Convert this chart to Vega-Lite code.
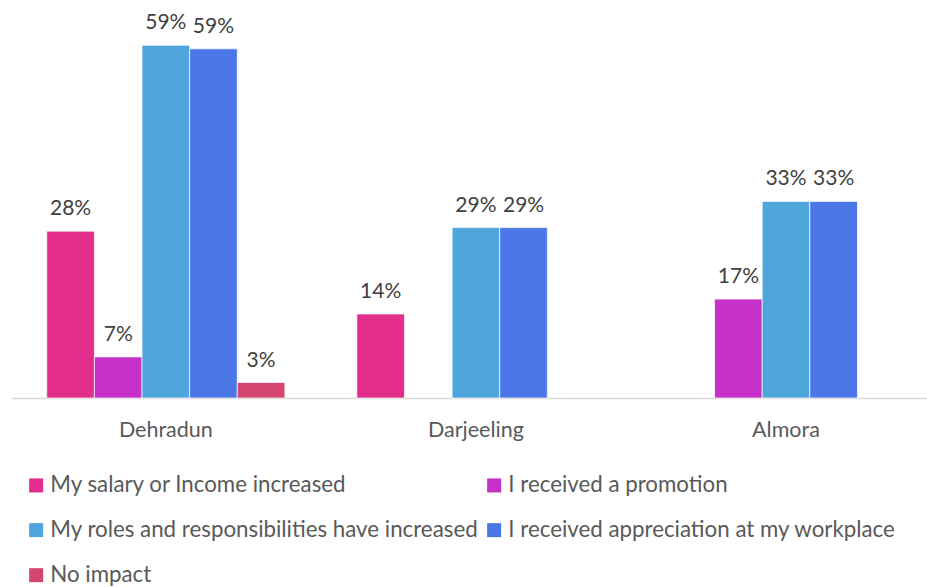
{
  "$schema": "https://vega.github.io/schema/vega-lite/v6.json",
  "width": 916,
  "height": 398,
  "padding": {"left": 11, "top": 0, "right": 0, "bottom": 189},
  "autosize": {"type": "none"},
  "background": "white",
  "config": {
    "font": "Lato",
    "view": {"stroke": null},
    "legend": {"labelFont": "Lato"}
  },
  "data": {
    "values": [
      {"city": "Dehradun", "series": "My salary or Income increased", "value": 0.28},
      {"city": "Dehradun", "series": "I received a promotion", "value": 0.069},
      {"city": "Dehradun", "series": "My roles and responsibilities have increased", "value": 0.592},
      {"city": "Dehradun", "series": "I received appreciation at my workplace", "value": 0.586},
      {"city": "Dehradun", "series": "No impact", "value": 0.026},
      {"city": "Darjeeling", "series": "My salary or Income increased", "value": 0.141},
      {"city": "Darjeeling", "series": "My roles and responsibilities have increased", "value": 0.286},
      {"city": "Darjeeling", "series": "I received appreciation at my workplace", "value": 0.286},
      {"city": "Almora", "series": "I received a promotion", "value": 0.166},
      {"city": "Almora", "series": "My roles and responsibilities have increased", "value": 0.33},
      {"city": "Almora", "series": "I received appreciation at my workplace", "value": 0.33}
    ]
  },
  "encoding": {
    "x": {
      "field": "city",
      "type": "nominal",
      "sort": ["Dehradun", "Darjeeling", "Almora"],
      "scale": {"paddingInner": 0.232, "paddingOuter": 0.093, "align": 0.62},
      "axis": {
        "title": null,
        "labelAngle": 0,
        "labelFontSize": 21.5,
        "labelColor": "#595959",
        "labelPadding": 21,
        "ticks": false,
        "domainColor": "#D9D9D9",
        "domainWidth": 1.5
      }
    },
    "xOffset": {
      "field": "series",
      "type": "nominal",
      "sort": ["My salary or Income increased", "I received a promotion", "My roles and responsibilities have increased", "I received appreciation at my workplace", "No impact"],
      "scale": {"paddingInner": 0, "paddingOuter": 0}
    },
    "y": {
      "field": "value",
      "type": "quantitative",
      "scale": {"domain": [0, 0.668], "nice": false},
      "axis": null
    }
  },
  "layer": [
    {
      "mark": {"type": "bar", "stroke": "white", "strokeWidth": 0.7},
      "encoding": {
        "color": {
          "field": "series",
          "type": "nominal",
          "sort": ["My salary or Income increased", "I received a promotion", "My roles and responsibilities have increased", "I received appreciation at my workplace", "No impact"],
          "scale": {
            "domain": ["My salary or Income increased", "I received a promotion", "My roles and responsibilities have increased", "I received appreciation at my workplace", "No impact"],
            "range": ["#E22D8A", "#C530C8", "#4FA6DC", "#4A76E6", "#D4466F"]
          },
          "legend": {
            "title": null,
            "orient": "none",
            "legendX": 14,
            "legendY": 474,
            "columns": 2,
            "direction": "horizontal",
            "symbolType": "square",
            "symbolSize": 196,
            "symbolStrokeWidth": 0,
            "labelFontSize": 22.3,
            "labelColor": "#595959",
            "labelOffset": 3,
            "labelLimit": 600,
            "rowPadding": 22,
            "columnPadding": 4
          }
        }
      }
    },
    {
      "mark": {"type": "text", "baseline": "bottom", "dy": -12, "fontSize": 21, "color": "#404040"},
      "encoding": {
        "text": {"field": "value", "type": "quantitative", "format": ".0%"}
      }
    }
  ]
}
